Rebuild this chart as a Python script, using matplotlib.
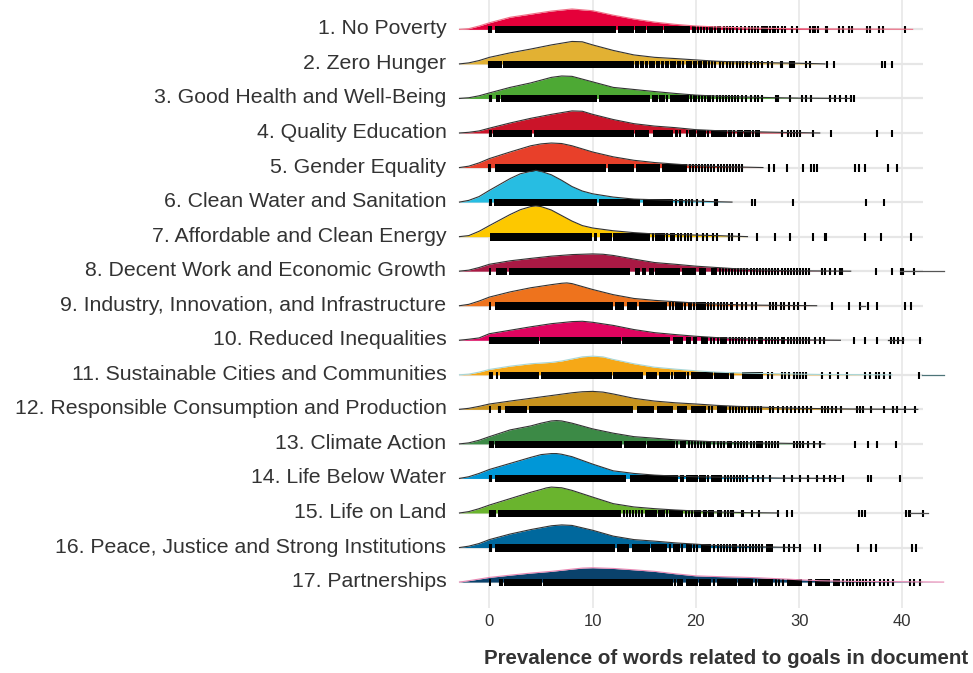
import matplotlib

matplotlib.use("Agg")
import matplotlib.pyplot as plt
from matplotlib.transforms import ScaledTranslation

plt.rcParams["font.family"] = ["Liberation Sans", "DejaVu Sans"]

GOALS = [
    "1. No Poverty", "2. Zero Hunger", "3. Good Health and Well-Being",
    "4. Quality Education", "5. Gender Equality", "6. Clean Water and Sanitation",
    "7. Affordable and Clean Energy", "8. Decent Work and Economic Growth",
    "9. Industry, Innovation, and Infrastructure", "10. Reduced Inequalities",
    "11. Sustainable Cities and Communities", "12. Responsible Consumption and Production",
    "13. Climate Action", "14. Life Below Water", "15. Life on Land",
    "16. Peace, Justice and Strong Institutions", "17. Partnerships",
]
COLORS = [
    "#e5003a", "#e2b133", "#4da934", "#cb1429", "#e8402a", "#27bde2", "#fdc800",
    "#aa1944", "#ee731d", "#e0045f", "#f6a817", "#c9931e", "#3c8a46", "#0097d7",
    "#6ab42e", "#00689d", "#0a426c",
]
EDGES = [
    "#ee6f86", "#333333", "#333333", "#333333", "#333333", "#333333", "#333333",
    "#333333", "#333333", "#333333", "#a8d6d6", "#333333", "#333333", "#333333",
    "#333333", "#333333", "#e887b3",
]

# density outlines: x (words) and height (in ridge-row units)
DENS_X = [
    [-2.9, -2, -1, 0, 2, 4, 6, 8, 10, 12, 14, 16, 18, 20, 22, 25, 28, 32, 36, 40, 41],
    [-2.9, -2, -1, 0, 2, 4, 6, 8, 9, 10, 12, 14, 16, 18, 20, 22, 25, 28, 30, 32.5],
    [-2.9, -2, -1, 0, 2, 4, 6, 7, 8, 10, 12, 14, 16, 18, 20, 22, 25, 28, 30, 35],
    [-2.9, -2, -1, 0, 2, 4, 6, 8, 9, 10, 12, 14, 16, 18, 20, 22, 25, 28, 32],
    [-2.9, -2, -1, 0, 2, 4, 5, 6, 7, 8, 10, 12, 14, 16, 18, 20, 22, 25, 26.5],
    [-2.9, -2, -1, 0, 1, 2, 3, 4, 4.5, 5, 6, 7, 8, 9, 10, 12, 14, 16, 18, 20, 22, 23.5],
    [-2.9, -2, -1, 0, 1, 2, 3, 4, 4.5, 5, 6, 7, 8, 9, 10, 12, 14, 16, 18, 20, 22, 24, 25],
    [-2.9, -2, -1, 0, 2, 4, 6, 8, 10, 11, 12, 14, 16, 18, 20, 22, 24, 26, 28, 30, 35],
    [-2.9, -2, -1, 0, 2, 4, 6, 7, 7.5, 8, 10, 12, 14, 16, 18, 20, 22, 25, 28, 31.7],
    [-2.9, -2, -1, 0, 2, 4, 6, 8, 9, 10, 12, 14, 16, 18, 20, 22, 25, 28, 30, 34],
    [-2.9, -2, -1, 0, 2, 4, 6, 7, 8, 9, 10, 11, 12, 14, 16, 18, 20, 22, 25, 28, 32, 39],
    [-2.9, -2, -1, 0, 2, 4, 6, 8, 9, 10, 11, 12, 14, 16, 18, 20, 22, 24, 26, 28, 30, 35, 41.5],
    [-2.9, -2, -1, 0, 2, 4, 5, 6, 6.5, 7, 8, 10, 12, 14, 16, 18, 20, 22, 25, 28, 32.5],
    [-2.9, -2, -1, 0, 2, 4, 5, 6, 6.5, 7, 8, 10, 12, 14, 16, 18, 20, 22, 24, 26, 28, 34],
    [-2.9, -2, -1, 0, 2, 4, 5, 5.5, 6, 7, 8, 10, 12, 14, 16, 18, 20, 22, 25, 28],
    [-2.9, -2, -1, 0, 2, 4, 6, 7, 8, 10, 12, 14, 16, 18, 20, 22, 25, 28, 30],
    [-2.9, -2, -1, 0, 2, 4, 6, 8, 9, 10, 12, 14, 16, 18, 20, 22, 24, 26, 28, 30, 32, 35, 40, 44],
]
DENS_H = [
    [0, .02, .097, .19, .35, .44, .53, .59, .54, .41, .30, .21, .145, .097, .07, .04, .025, .015, .01, .005, 0],
    [0, .03, .097, .19, .32, .43, .55, .65, .64, .55, .39, .26, .19, .155, .116, .077, .048, .029, .019, 0],
    [0, .02, .077, .16, .32, .45, .61, .65, .64, .48, .32, .26, .20, .145, .097, .068, .039, .02, .01, 0],
    [0, .02, .06, .14, .29, .425, .54, .64, .63, .54, .39, .27, .20, .155, .097, .068, .039, .02, 0],
    [0, .04, .135, .26, .45, .63, .685, .71, .695, .63, .45, .31, .21, .145, .10, .058, .03, .01, 0],
    [0, .05, .16, .34, .51, .68, .82, .89, .92, .89, .79, .63, .45, .32, .24, .145, .087, .068, .048, .03, .01, 0],
    [0, .03, .155, .32, .48, .64, .78, .87, .89, .87, .77, .61, .45, .32, .25, .17, .116, .077, .06, .045, .03, .01, 0],
    [0, .03, .106, .20, .30, .37, .435, .48, .50, .49, .455, .35, .25, .20, .145, .106, .068, .039, .02, .01, 0],
    [0, .04, .135, .25, .40, .52, .61, .65, .66, .64, .47, .32, .21, .155, .116, .077, .048, .02, .01, 0],
    [0, .03, .068, .19, .29, .39, .48, .54, .55, .52, .43, .31, .22, .165, .116, .077, .039, .02, .01, 0],
    [0, .02, .077, .155, .25, .32, .36, .40, .46, .52, .54, .52, .445, .32, .22, .165, .116, .077, .048, .03, .01, 0],
    [0, .03, .087, .155, .24, .32, .40, .48, .51, .52, .50, .445, .32, .24, .19, .155, .116, .087, .068, .048, .03, .01, 0],
    [0, .03, .106, .21, .405, .52, .60, .665, .675, .665, .60, .435, .31, .21, .165, .116, .087, .058, .03, .02, 0],
    [0, .05, .145, .26, .435, .61, .69, .72, .72, .70, .63, .415, .22, .145, .097, .068, .048, .039, .03, .02, .01, 0],
    [0, .04, .125, .23, .415, .60, .68, .725, .75, .73, .655, .46, .27, .175, .125, .087, .058, .03, .01, 0],
    [0, .04, .116, .23, .39, .52, .63, .655, .64, .50, .33, .23, .185, .135, .097, .058, .03, .01, 0],
    [0, .04, .087, .135, .20, .26, .31, .375, .405, .415, .395, .355, .31, .24, .18, .16, .145, .125, .097, .068, .039, .02, .01, 0],
]

# rug: solid runs (x0, x1) and single ticks
RUG_SPANS = [
    [(0.58, 12.3), (12.45, 14.0), (14.1, 15.2), (15.3, 16.8), (16.9, 19.4), (22.0, 22.4), (26.3, 26.8)],
    [(1.3, 14.0), (14.6, 15.0), (15.5, 16.0), (17.0, 17.4), (19.0, 19.6), (20.2, 20.6)],
    [(0.68, 1.06), (1.16, 10.4), (10.6, 15.6), (17.5, 19.3)],
    [(0.58, 4.13), (4.29, 14.0), (14.1, 15.5), (15.8, 17.8), (18.0, 18.3), (19.3, 19.8), (20.1, 21.0),
     (21.5, 23.0), (24.0, 24.6), (24.9, 25.3), (25.7, 26.2)],
    [(0.58, 11.3), (11.5, 14.0), (14.2, 16.5), (16.7, 19.1)],
    [(0.42, 10.4), (10.6, 14.6), (14.9, 17.8)],
    [(0.03, 9.9), (10.1, 10.4), (10.7, 11.9), (12.0, 15.6), (16.0, 17.0), (17.5, 18.0)],
    [(0.0, 0.15), (0.68, 1.7), (1.87, 13.6), (14.1, 14.6), (14.8, 15.2), (15.5, 15.9), (16.0, 18.5),
     (18.7, 20.0), (20.3, 21.0), (21.5, 22.0)],
    [(0.0, 0.15), (0.58, 12.0), (12.2, 13.0), (13.3, 14.3), (14.45, 17.2), (18.0, 18.8), (19.2, 19.6),
     (20.0, 21.0), (23.3, 23.6)],
    [(1.06, 4.8), (4.9, 12.7), (12.8, 17.5), (17.8, 18.8), (19.0, 19.5), (20.5, 21.2), (22.3, 23.0),
     (26.0, 26.5), (28.2, 28.6)],
    [(1.0, 4.8), (5.0, 11.9), (12.0, 14.9), (15.2, 16.2), (16.4, 17.5), (17.9, 19.0), (19.5, 21.5),
     (21.8, 23.2), (24.5, 26.5)],
    [(0.0, 0.2), (1.55, 3.65), (3.8, 13.9), (14.3, 15.9), (16.2, 17.8), (18.2, 19.1), (19.5, 21.0),
     (22.0, 23.0)],
    [(0.58, 12.8), (13.0, 15.0), (15.3, 18.0), (18.5, 19.0), (21.0, 21.5), (23.0, 23.5), (25.8, 26.5)],
    [(0.58, 13.2), (13.6, 18.3), (19.0, 20.0), (20.3, 21.0), (21.5, 22.5)],
    [(0.8, 12.7), (15.1, 16.0), (16.3, 17.0), (17.4, 18.8), (19.8, 20.5), (21.2, 21.8), (22.0, 22.5)],
    [(0.58, 12.2), (12.35, 13.5), (13.8, 15.6), (15.7, 17.2), (17.8, 18.5), (19.0, 19.6), (20.5, 21.5),
     (23.5, 24.0), (26.8, 27.5)],
    [(0.0, 0.2), (1.4, 2.8), (3.0, 3.9), (4.1, 4.9), (5.2, 5.9), (6.1, 17.8), (18.2, 18.8), (19.0, 20.0),
     (20.3, 21.5), (22.0, 24.0), (24.3, 25.5), (26.0, 27.5), (28.8, 30.3), (31.5, 33.0), (33.3, 34.0)],
]
RUG_TICKS = [
    [0.0, 0.2, 19.7, 19.95, 20.2, 20.5, 20.8, 21.1, 21.4, 21.6, 21.9, 22.7, 23.0, 23.3, 23.6, 24.0, 24.4,
     24.8, 25.1, 25.4, 25.7, 26.0, 26.9, 27.2, 27.5, 27.7, 28.0, 28.3, 28.6, 29.3, 29.8, 31.1, 31.3, 31.5,
     31.8, 32.6, 32.7, 33.9, 34.3, 34.8, 35.1, 36.6, 36.9, 37.7, 38.1, 40.3],
    [0.0, 0.16, 0.35, 0.52, 0.68, 0.84, 1.0, 1.16, 14.2, 14.4, 15.2, 15.3, 16.2, 16.4, 16.7, 16.8, 17.6,
     17.8, 18.0, 18.3, 18.5, 18.8, 19.8, 20.0, 20.8, 21.0, 21.3, 21.6, 21.9, 22.3, 22.6, 23.0, 23.3, 23.6,
     24.0, 24.3, 24.6, 25.0, 25.3, 25.7, 26.0, 26.4, 27.0, 27.4, 28.2, 28.3, 29.1, 29.3, 29.5, 30.7, 31.1,
     32.7, 33.4, 38.0, 38.3, 39.0],
    [0.03, 0.19, 15.8, 16.0, 16.2, 16.5, 16.7, 16.9, 17.2, 19.5, 19.8, 20.0, 20.3, 20.6, 20.9, 21.2,
     21.4, 21.7, 22.0, 22.3, 22.6, 22.9, 23.2, 23.5, 23.8, 24.1, 24.5, 24.9, 25.3, 25.7, 26.0, 26.4, 27.8,
     28.0, 29.1, 30.3, 30.7, 31.2, 33.0, 33.5, 34.0, 34.5, 35.0, 35.3],
    [0.03, 0.19, 0.42, 18.5, 19.1, 19.9, 21.2, 23.2, 23.4, 23.7, 24.8, 25.5, 28.3, 28.9, 29.2, 29.5,
     29.8, 30.1, 31.3, 33.1, 37.5, 39.0],
    [0.0, 0.05, 19.4, 19.7, 20.0, 20.3, 20.6, 20.9, 21.2, 21.5, 21.8, 22.1, 22.4, 22.7, 23.0, 23.3, 23.6,
     23.9, 24.2, 24.5, 27.1, 27.6, 28.8, 30.4, 31.2, 31.4, 31.7, 35.4, 35.8, 36.4, 38.6, 39.5],
    [0.03, 0.16, 18.1, 18.5, 18.7, 19.0, 19.3, 19.6, 20.1, 20.7, 21.9, 22.0, 25.4, 25.7, 29.4, 36.5, 38.2],
    [15.8, 17.2, 18.3, 18.6, 18.9, 19.2, 19.5, 20.1, 20.7, 21.1, 21.7, 22.0, 23.2, 23.5, 24.2, 25.9,
     27.7, 29.1, 31.3, 32.5, 32.6, 36.4, 37.9, 40.8],
    [22.3, 22.6, 22.9, 23.2, 23.5, 23.8, 24.1, 24.4, 24.7, 25.0, 25.3, 25.6, 25.9, 26.2, 26.5, 26.8,
     27.1, 27.4, 27.7, 28.0, 28.3, 28.6, 28.9, 29.2, 29.5, 29.8, 30.1, 30.4, 30.7, 31.0, 32.2, 32.5, 33.0,
     33.5, 34.0, 34.2, 37.4, 39.0, 39.9, 40.1, 41.1],
    [17.5, 17.8, 18.9, 19.8, 21.2, 21.5, 21.8, 22.1, 22.4, 22.7, 23.0, 24.0, 24.5, 24.9, 25.4, 25.8,
     27.2, 27.5, 27.8, 28.2, 28.5, 29.0, 29.5, 29.9, 30.6, 33.2, 34.8, 35.9, 36.7, 37.5, 40.3, 40.8],
    [0.03, 0.26, 0.42, 0.58, 0.74, 0.9, 19.8, 20.0, 21.5, 21.8, 22.1, 23.3, 23.6, 23.9, 24.2, 24.5,
     24.8, 25.1, 25.4, 25.7, 26.8, 27.1, 27.4, 27.7, 28.0, 28.9, 29.2, 29.5, 29.8, 30.1, 30.4, 30.7, 31.0,
     31.5, 32.0, 32.4, 35.3, 36.4, 37.5, 38.9, 39.2, 39.6, 40.1, 41.7],
    [0.03, 0.22, 0.74, 17.7, 19.2, 21.6, 23.4, 23.6, 27.0, 27.4, 28.3, 28.6, 29.0, 29.5, 29.8, 30.1,
     30.4, 30.7, 32.2, 33.0, 33.8, 34.6, 36.4, 36.9, 37.4, 37.7, 38.2, 38.8, 41.6],
    [0.9, 1.05, 21.3, 21.6, 23.3, 23.6, 23.9, 24.2, 24.5, 24.8, 25.1, 25.4, 25.7, 26.0, 26.3, 27.2,
     27.5, 28.0, 28.4, 28.8, 29.2, 29.6, 30.0, 30.4, 30.8, 31.2, 32.2, 32.5, 32.8, 33.2, 33.6, 34.1,
     35.6, 35.9, 36.2, 37.0, 38.2, 39.1, 39.5, 40.3, 41.2],
    [0.03, 0.19, 0.35, 15.1, 18.2, 19.3, 19.6, 19.9, 20.2, 20.5, 20.8, 21.8, 22.1, 22.4, 22.7, 23.8,
     24.1, 24.4, 24.7, 25.0, 25.3, 25.6, 26.8, 27.1, 27.4, 27.7, 28.0, 29.5, 29.8, 30.1, 30.4, 30.9,
     31.4, 32.0, 35.4, 36.7, 37.5, 39.4],
    [0.03, 0.19, 18.6, 18.8, 20.1, 21.2, 22.8, 23.1, 23.4, 23.7, 24.0, 24.3, 24.6, 25.0, 25.5, 26.0,
     26.5, 27.2, 28.5, 29.3, 30.1, 30.9, 31.7, 32.4, 33.0, 33.5, 34.3, 36.7, 37.0, 39.8],
    [0.03, 0.16, 0.29, 0.42, 0.58, 13.0, 13.3, 13.6, 13.9, 14.2, 14.5, 14.8, 16.15, 17.2, 19.0, 19.3,
     19.6, 20.8, 21.0, 22.8, 23.1, 23.4, 23.6, 24.5, 24.55, 25.4, 26.1, 28.0, 28.8, 29.3, 35.8, 36.1,
     36.4, 40.4, 40.6, 40.7, 42.0],
    [0.03, 0.19, 17.5, 18.7, 19.8, 20.1, 21.8, 22.1, 22.4, 22.7, 23.0, 23.3, 24.3, 24.6, 24.9, 25.2,
     25.5, 25.8, 26.1, 26.4, 28.5, 29.0, 29.5, 30.1, 31.5, 32.0, 35.7, 37.0, 37.4, 40.9, 41.3],
    [1.0, 1.2, 2.9, 4.0, 5.0, 6.0, 18.0, 20.1, 21.8, 24.15, 25.8, 27.8, 28.1, 28.4, 31.0, 31.2, 34.3,
     34.6, 34.9, 35.2, 35.6, 35.9, 36.2, 36.5, 36.9, 37.3, 37.8, 38.2, 38.6, 39.1, 40.7, 41.1, 41.7],
]
# loose baseline line pieces beyond the outlines: (row, x0, x1, colour)
TAILS = [
    (7, 39.8, 44.0, "#555555"), (8, 35.9, 36.4, "#555555"), (9, 38.6, 40.1, "#333333"),
    (10, 41.9, 44.0, "#4d7478"), (14, 40.7, 42.5, "#555555"),
]
XTICKS = [0, 10, 20, 30, 40]

n = len(GOALS)
fig = plt.figure(figsize=(9.73, 6.73), dpi=100)
ax = fig.add_axes([0.4717, 0.0966, 0.4769, 0.9034])
ax.set_xlim(-2.95, 42.0)
ax.set_ylim(-0.75, 16.85)

grid_c = "#e6e6e6"
for xt in XTICKS:
    ax.axvline(xt, color=grid_c, lw=1.1, zorder=0)
for i in range(n):
    ax.axhline(n - 1 - i, color=grid_c, lw=1.6, zorder=0)

for i in range(n):
    base = n - 1 - i
    z = 2 + i * 3
    ys = [base + h for h in DENS_H[i]]
    ax.fill_between(DENS_X[i], base, ys, color=COLORS[i], lw=0, zorder=z, clip_on=False)
    ax.plot(DENS_X[i], ys, color=EDGES[i], lw=0.8, zorder=z + 2, clip_on=False)
    for x0, x1 in RUG_SPANS[i]:
        ax.barh(base - 0.01, x1 - x0, left=x0, height=0.21, color="black", lw=0, zorder=z + 1,
                clip_on=False)
    ax.vlines(RUG_TICKS[i], base - 0.115, base + 0.095, color="black", lw=1.5, zorder=z + 1,
              clip_on=False)

for row, x0, x1, c in TAILS:
    base = n - 1 - row
    ax.plot([x0, x1], [base, base], color=c, lw=0.9, zorder=60, clip_on=False)

for s in ax.spines.values():
    s.set_visible(False)
ax.set_yticks([n - 1 - i for i in range(n)])
ax.set_yticklabels(GOALS, fontsize=15.3, color="#333333")
ax.set_xticks(XTICKS)
ax.set_xticklabels([str(v) for v in XTICKS], fontsize=12, color="#333333")
ax.tick_params(axis="x", length=0, pad=4)
ax.tick_params(axis="y", length=0, pad=9)
lift = ScaledTranslation(0, 2.5 / 100, fig.dpi_scale_trans)
for lab in ax.get_yticklabels():
    lab.set_transform(lab.get_transform() + lift)

fig.text(726 / 973, 1 - 659 / 673, "Prevalence of words related to goals in document",
         fontsize=14.8, fontweight="bold", color="#333333", ha="center", va="center")

fig.savefig("out.png", dpi=100)
